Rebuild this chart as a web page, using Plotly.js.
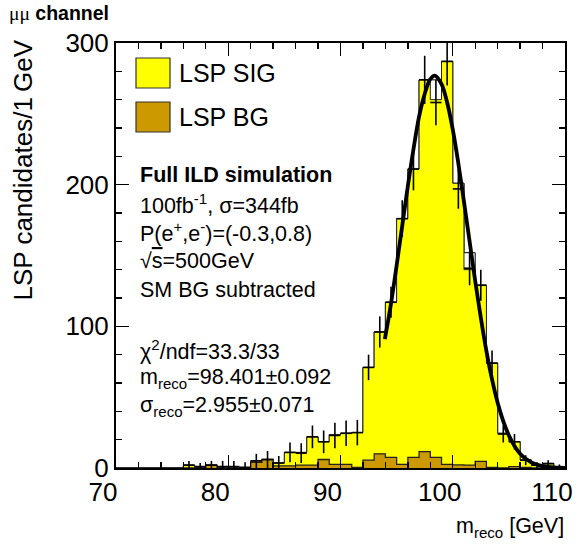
<!DOCTYPE html>
<html>
<head>
<meta charset="utf-8">
<script src="https://cdn.plot.ly/plotly-3.0.1.min.js"></script>
<style>html,body{margin:0;padding:0;background:#fff;}#chart{width:587px;height:546px;}</style>
</head>
<body>
<div id="chart"></div>
<script>
// ---- data ----
const binLow = [70,71,72,73,74,75,76,77,78,79,80,81,82,83,84,85,86,87,88,89,90,91,92,93,94,95,96,97,98,99,100,101,102,103,104,105,106,107,108,109];
const binHigh = 110;
const sigCounts = [0,0,0,0,0,0,2,1,2,0,0.5,0,5,6,3.5,11,11,22,18.6,23.5,24.5,25,71,96,117,176,211,274,260,287,201,140,129,74,24.5,18.6,5.6,2,3.3,1];
const outlineCounts = [0,0,0,0,0,0,2,1,2,0,0.5,0,5,6,3.5,11,11,22,18.6,23.5,24.5,25,71,96,117,176,211,274,274,287,201,152,129,74,24.5,18.6,5.6,2,3.3,1];
const bgCounts = [0,0,0,0,0,0,0,0.5,2,0,0,0,4,6,1.5,1.5,2,2,6,2.5,2.5,0.5,5.5,10,7.5,2.6,7.5,11.5,7.5,2.6,2.2,2,4.7,0.5,0,1,0.5,0,0,0];
const dataCounts = [null,null,null,null,null,null,2,1,2,1,1,0.5,5,6,3.5,11,10.5,22,18.5,23,24.5,25,71,96,117,176,211,274,258,287,197,141,129,74,24,18.5,5.5,2,3,0.5];
const dataErrors = [0,0,0,0,0,0,3,2.5,3,4,4,3.5,5,6,5,7,7,8,8,9,9,9,9,11,11,13,15,17,16,17,14,12,11,9,6,5.5,3.5,2,2.5,2];
const fitMass = [93.95,94.5,95,95.5,96,96.5,97,97.5,98,98.4,99,99.5,100,100.5,101,101.5,102,102.5,103,103.5,104,104.5,105,105.5,106,106.5,107,107.5,108,108.5,109,109.5,110];
const fitCounts = [91,116,143,171,199,225,248,264,274.5,277,271,258,239,215,188,160,132,106,82.5,62.5,46,33,23,15.5,10,6.5,4,2.4,1.4,0.8,0.4,0.2,0.1];
const xTickVals = [70,80,90,100,110];
const yTickVals = [0,100,200,300];
const legendLabels = ['LSP SIG','LSP BG'];

// ---- helpers ----
function stepX(){ return binLow.concat([binHigh]); }
function stepY(v){ return v.concat([v[v.length-1]]); }
const binCenters = binLow.map(b => b + 0.5);

const FONT = 'Liberation Sans, Arial, Helvetica, sans-serif';
const YELLOW = '#ffff00';
const BROWN = '#cc9900';

const traces = [
  {x: stepX(), y: stepY(outlineCounts), type:'scatter', mode:'lines',
   line:{shape:'hv', color:'#000', width:1}, hoverinfo:'skip'},
  {x: stepX(), y: stepY(sigCounts), type:'scatter', mode:'lines', fill:'tozeroy',
   fillcolor: YELLOW, line:{shape:'hv', color:'#222', width:1}, hoverinfo:'skip'},
  {x: stepX(), y: stepY(bgCounts), type:'scatter', mode:'lines', fill:'tozeroy',
   fillcolor: BROWN, line:{shape:'hv', color:'#222', width:1.3}, hoverinfo:'skip'},
  {x: fitMass, y: fitCounts, type:'scatter', mode:'lines',
   line:{shape:'spline', color:'#000', width:3.8}, hoverinfo:'skip'},
  {x: binCenters, y: dataCounts, type:'scatter', mode:'markers',
   marker:{size:1, color:'#000'}, cliponaxis:false,
   error_y:{type:'data', array: dataErrors, visible:true, color:'#000', thickness:1.6, width:0},
   error_x:{type:'constant', value:0.5, visible:true, color:'#000', thickness:1.6, width:0},
   hoverinfo:'skip'}
];

// pixel -> paper helpers (plot area 116..565 x, 43..468 y)
const L=116, R=565, T=43, B=468;
const px = v => (v-L)/(R-L);
const py = v => (B-v)/(B-T);

const textLines = [
  '<b>Full ILD simulation</b>',
  '100fb<sup>-1</sup>, σ=344fb',
  'P(e<sup>+</sup>,e<sup>-</sup>)=(-0.3,0.8)',
  '√<span style="text-decoration:overline">s</span>=500GeV',
  'SM BG subtracted',
  'χ<sup>2</sup>/ndf=33.3/33',
  'm<sub>reco</sub>=98.401±0.092',
  'σ<sub>reco</sub>=2.955±0.071'
];
const textY = [175, 204, 232, 261, 290, 350, 378, 406];

const annotations = textLines.map((t,i)=>({
  text:t, xref:'paper', yref:'paper', x:px(138), y:py(textY[i]),
  xanchor:'left', yanchor:'middle', showarrow:false,
  font:{family:FONT, size:21.5, color:'#000'}
}));
annotations.push({text:legendLabels[0], xref:'paper', yref:'paper', x:px(177), y:py(73),
  xanchor:'left', yanchor:'middle', showarrow:false, font:{family:FONT, size:25, color:'#000'}});
annotations.push({text:legendLabels[1], xref:'paper', yref:'paper', x:px(177), y:py(117),
  xanchor:'left', yanchor:'middle', showarrow:false, font:{family:FONT, size:25, color:'#000'}});
annotations.push({text:'m<sub>reco</sub> [GeV]', xref:'paper', yref:'paper', x:px(566), y:py(527),
  xanchor:'right', yanchor:'middle', showarrow:false, font:{family:FONT, size:21.5, color:'#000'}});
annotations.push({text:'LSP candidates/1\u2009GeV', xref:'paper', yref:'paper', x:px(22), y:py(38),
  xanchor:'center', yanchor:'top', textangle:-90, showarrow:false, font:{family:FONT, size:26, color:'#000'}});
annotations.push({text:'<span style="font-family:\'Liberation Serif\',serif">μμ</span> <b>channel</b>', xref:'paper', yref:'paper', x:px(7), y:py(13),
  xanchor:'left', yanchor:'middle', showarrow:false, font:{family:FONT, size:19.5, color:'#000'}});

const shapes = [
  {type:'rect', xref:'paper', yref:'paper', x0:px(136), x1:px(170), y0:py(88), y1:py(58),
   fillcolor:YELLOW, line:{color:'#333', width:1.2}},
  {type:'rect', xref:'paper', yref:'paper', x0:px(136), x1:px(170), y0:py(132), y1:py(102),
   fillcolor:BROWN, line:{color:'#333', width:1.2}}
];

const axisCommon = {
  showline:true, linecolor:'#000', linewidth:2, mirror:'allticks',
  ticks:'inside', ticklen:13, tickwidth:1.3, tickcolor:'#000',
  showgrid:false, zeroline:false, fixedrange:true,
  tickfont:{family:FONT, size:26, color:'#000'}
};

const layout = {
  width:587, height:546,
  margin:{l:L, r:587-R, t:T, b:546-B},
  paper_bgcolor:'#fff', plot_bgcolor:'#fff',
  showlegend:false,
  xaxis: Object.assign({}, axisCommon, {range:[70,110], tickmode:'array', tickvals:xTickVals,
     ticktext:xTickVals.map(String), ticklabelshift:-13,
     minor:{dtick:2, tick0:70, ticks:'inside', ticklen:6, tickwidth:1.3, tickcolor:'#000', showgrid:false}}),
  yaxis: Object.assign({}, axisCommon, {range:[0,300], tickmode:'array', tickvals:yTickVals,
     ticktext:yTickVals.map(String),
     minor:{dtick:20, tick0:0, ticks:'inside', ticklen:6, tickwidth:1.3, tickcolor:'#000', showgrid:false}}),
  annotations: annotations,
  shapes: shapes
};

Plotly.newPlot('chart', traces, layout, {displayModeBar:false, staticPlot:true});
</script>
</body>
</html>
